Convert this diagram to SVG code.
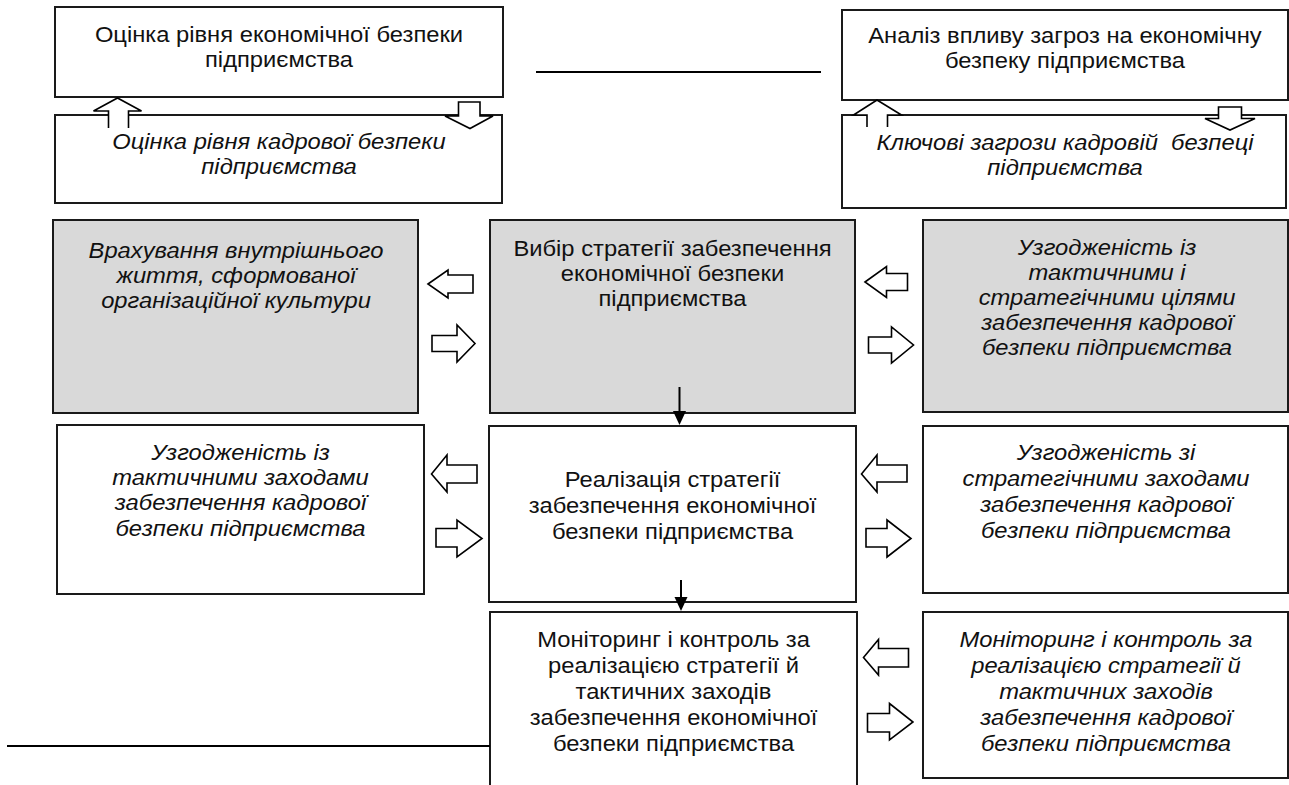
<svg xmlns="http://www.w3.org/2000/svg" width="1289" height="785" viewBox="0 0 1289 785">
<style>
.box{fill:#fff;stroke:#1a1a1a;stroke-width:2}
.gray{fill:#d9d9d9;stroke:#1a1a1a;stroke-width:2}
.t{font-family:"Liberation Sans",Arial,sans-serif;font-size:22px;fill:#111;text-anchor:middle}
.i{font-style:italic}
.ba{fill:#fff;stroke:#000;stroke-width:1.6;stroke-linejoin:miter}
.ln{stroke:#000;stroke-width:2;fill:none}
</style>
<rect width="1289" height="785" fill="#fff"/>
<g id="n-econ-level">
<rect class="box" x="55" y="7" width="448" height="90"/>
<text class="t" transform="translate(279 0) scale(1.08 1)"><tspan x="0" y="42">Оцінка рівня економічної безпеки</tspan><tspan x="0" y="67">підприємства</tspan></text>
</g>
<g id="n-hr-level">
<rect class="box" x="55" y="115" width="447" height="88"/>
<text class="t i" transform="translate(279 0) scale(1.08 1)"><tspan x="0" y="149">Оцінка рівня кадрової безпеки</tspan><tspan x="0" y="174">підприємства</tspan></text>
</g>
<g id="n-threat-analysis">
<rect class="box" x="842" y="10" width="446" height="90"/>
<text class="t" transform="translate(1065 0) scale(1.08 1)"><tspan x="0" y="43">Аналіз впливу загроз на економічну</tspan><tspan x="0" y="68">безпеку підприємства</tspan></text>
</g>
<g id="n-key-threats">
<rect class="box" x="842" y="115" width="444" height="93"/>
<text class="t i" transform="translate(1065 0) scale(1.08 1)" xml:space="preserve"><tspan x="0" y="150">Ключові загрози кадровій  безпеці</tspan><tspan x="0" y="175">підприємства</tspan></text>
</g>
<g id="n-culture">
<rect class="gray" x="53" y="220" width="365" height="193"/>
<text class="t i" transform="translate(236 0) scale(1.08 1)"><tspan x="0" y="258">Врахування внутрішнього</tspan><tspan x="0" y="283">життя, сформованої</tspan><tspan x="0" y="308">організаційної культури</tspan></text>
</g>
<g id="n-strategy-choice">
<rect class="gray" x="490" y="220" width="365" height="193"/>
<text class="t" transform="translate(672.5 0) scale(1.08 1)"><tspan x="0" y="256">Вибір стратегії забезпечення</tspan><tspan x="0" y="281">економічної безпеки</tspan><tspan x="0" y="306">підприємства</tspan></text>
</g>
<g id="n-goals">
<rect class="gray" x="923" y="220" width="365" height="192"/>
<text class="t i" transform="translate(1107 0) scale(1.08 1)"><tspan x="0" y="255">Узгодженість із</tspan><tspan x="0" y="280">тактичними і</tspan><tspan x="0" y="305">стратегічними цілями</tspan><tspan x="0" y="330">забезпечення кадрової</tspan><tspan x="0" y="355">безпеки підприємства</tspan></text>
</g>
<g id="n-tactical">
<rect class="box" x="57" y="425" width="367" height="169"/>
<text class="t i" transform="translate(240.5 0) scale(1.08 1)"><tspan x="0" y="460">Узгодженість із</tspan><tspan x="0" y="485">тактичними заходами</tspan><tspan x="0" y="510">забезпечення кадрової</tspan><tspan x="0" y="536">безпеки підприємства</tspan></text>
</g>
<g id="n-implementation">
<rect class="box" x="489" y="426" width="367" height="176"/>
<text class="t" transform="translate(672.5 0) scale(1.08 1)"><tspan x="0" y="487">Реалізація стратегії</tspan><tspan x="0" y="513">забезпечення економічної</tspan><tspan x="0" y="539">безпеки підприємства</tspan></text>
</g>
<g id="n-strategic">
<rect class="box" x="923" y="426" width="365" height="167"/>
<text class="t i" transform="translate(1106 0) scale(1.08 1)"><tspan x="0" y="460">Узгодженість зі</tspan><tspan x="0" y="486">стратегічними заходами</tspan><tspan x="0" y="512">забезпечення кадрової</tspan><tspan x="0" y="538">безпеки підприємства</tspan></text>
</g>
<g id="n-monitoring">
<rect class="box" x="490" y="612" width="367" height="190"/>
<text class="t" transform="translate(673.5 0) scale(1.08 1)"><tspan x="0" y="647">Моніторинг і контроль за</tspan><tspan x="0" y="673">реалізацією стратегії й</tspan><tspan x="0" y="699">тактичних заходів</tspan><tspan x="0" y="725">забезпечення економічної</tspan><tspan x="0" y="751">безпеки підприємства</tspan></text>
</g>
<g id="n-monitoring-hr">
<rect class="box" x="923" y="612" width="365" height="166"/>
<text class="t i" transform="translate(1106 0) scale(1.08 1)"><tspan x="0" y="647">Моніторинг і контроль за</tspan><tspan x="0" y="673">реалізацією стратегії й</tspan><tspan x="0" y="699">тактичних заходів</tspan><tspan x="0" y="725">забезпечення кадрової</tspan><tspan x="0" y="751">безпеки підприємства</tspan></text>
</g>
<g id="connectors">
<line class="ln" x1="536" y1="72" x2="821" y2="72"/>
<line class="ln" x1="7" y1="746" x2="490" y2="746"/>
<line class="ln" x1="679.5" y1="387" x2="679.5" y2="412"/>
<polygon points="673,411 686,411 679.5,425" fill="#000"/>
<line class="ln" x1="681" y1="580" x2="681" y2="598"/>
<polygon points="674.5,597 687.5,597 681,611" fill="#000"/>
<path class="ba" d="M108.5,128 V111 H93.5 L117.5,98 L141.5,111 H128.5 V128"/>
<path class="ba" d="M458.5,102 H480 V116 H493 L470,128.5 L445,116 H458.5 Z"/>
<path class="ba" d="M867,127 V115 H853.5 L877,100 L901.5,115 H887.5 V127"/>
<path class="ba" d="M1218.5,107 H1241.5 V118.5 H1255 L1230,130 L1205,118.5 H1218.5 Z"/>
<polygon class="ba" points="428,284 448,270 448,275 473,275 473,293 448,293 448,298"/>
<polygon class="ba" points="432,335.5 457,335.5 457,325 475,343.5 457,362 457,351.5 432,351.5"/>
<polygon class="ba" points="865,282 886.5,266.5 886.5,273.5 907.5,273.5 907.5,290.5 886.5,290.5 886.5,297.5"/>
<polygon class="ba" points="868.5,337 891.5,337 891.5,327 913.5,345 891.5,363 891.5,353 868.5,353"/>
<polygon class="ba" points="431.5,474 447,455 447,465 477,465 477,483 447,483 447,492"/>
<polygon class="ba" points="436,528.5 457,528.5 457,520 482,538.5 457,557 457,547 436,547"/>
<polygon class="ba" points="861.5,474 877,455 877,465 907,465 907,482 877,482 877,492"/>
<polygon class="ba" points="866,528.5 887,528.5 887,520 911,538.5 887,557 887,547 866,547"/>
<polygon class="ba" points="863.5,657.5 878.5,639.5 878.5,648.5 908.5,648.5 908.5,667 878.5,667 878.5,675"/>
<polygon class="ba" points="867.5,713.5 889.5,713.5 889.5,703.5 913,722 889.5,740 889.5,732 867.5,732"/>
</g>
</svg>
